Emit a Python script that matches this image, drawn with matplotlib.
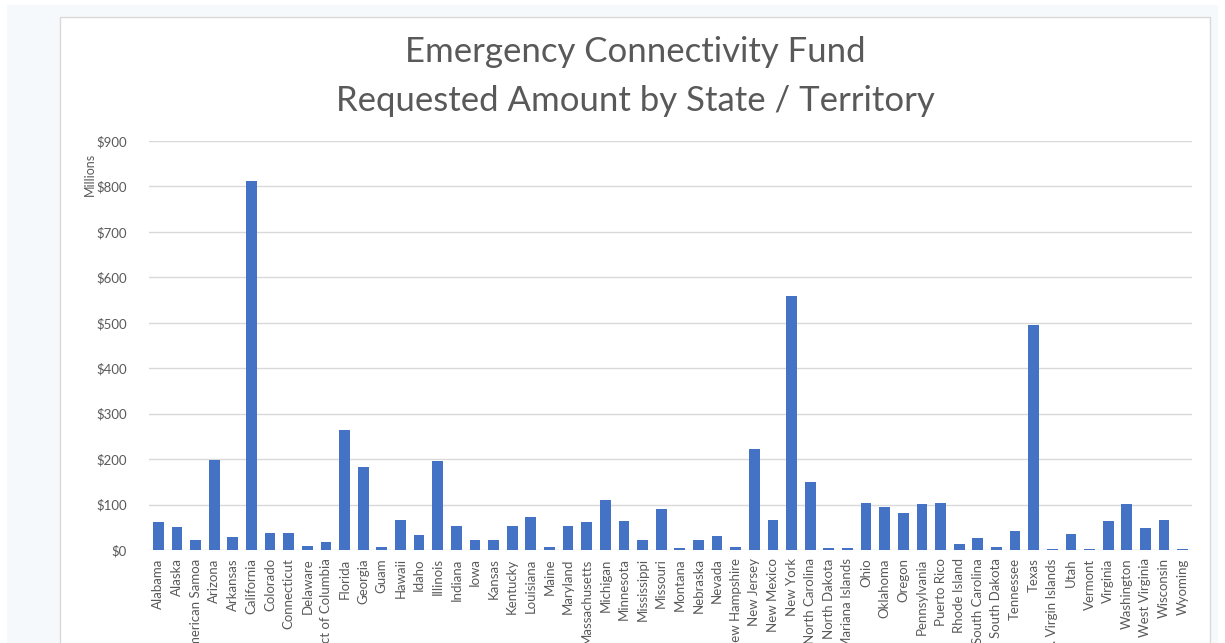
import matplotlib.pyplot as plt
import matplotlib.patches as mpatches
from matplotlib.ticker import FuncFormatter, MultipleLocator

# requested amount, millions of dollars
states = ["Alabama", "Alaska", "American Samoa", "Arizona", "Arkansas", "California",
          "Colorado", "Connecticut", "Delaware", "District of Columbia", "Florida",
          "Georgia", "Guam", "Hawaii", "Idaho", "Illinois", "Indiana", "Iowa", "Kansas",
          "Kentucky", "Louisiana", "Maine", "Maryland", "Massachusetts", "Michigan",
          "Minnesota", "Mississippi", "Missouri", "Montana", "Nebraska", "Nevada",
          "New Hampshire", "New Jersey", "New Mexico", "New York", "North Carolina",
          "North Dakota", "Northern Mariana Islands", "Ohio", "Oklahoma", "Oregon",
          "Pennsylvania", "Puerto Rico", "Rhode Island", "South Carolina", "South Dakota",
          "Tennessee", "Texas", "U.S. Virgin Islands", "Utah", "Vermont", "Virginia",
          "Washington", "West Virginia", "Wisconsin", "Wyoming"]
amounts = [62, 50, 23, 199, 29, 812,
           37, 37, 8, 18, 264,
           183, 6, 65, 34, 196, 53, 21, 23,
           53, 72, 6, 53, 61, 109,
           64, 22, 90, 4, 22, 30,
           6, 223, 67, 559, 150,
           4, 4, 104, 95, 82,
           101, 104, 13, 27, 6,
           42, 495, 3, 35, 3, 64,
           101, 48, 67, 3]

txt = "#595959"
fig = plt.figure(figsize=(12.25, 6.43), dpi=100)
fig.patch.set_facecolor("white")
# page background and chart panel
fig.patches.append(mpatches.Rectangle((7/1225, 0), 1211/1225, 1 - 5/643,
                                      transform=fig.transFigure, facecolor="#f6f9fc",
                                      edgecolor="none", zorder=-3))
fig.patches.append(mpatches.Rectangle((60/1225, -0.05), 1150/1225, 1.05 - 17/643,
                                      transform=fig.transFigure, facecolor="white",
                                      edgecolor="#d9d9d9", lw=1, zorder=-2))

ax = fig.add_axes([149/1225, 1 - 550/643, (1192 - 149)/1225, (550 - 141)/643])
ax.bar(range(len(states)), amounts, width=0.575, color="#4472C4", zorder=3)
ax.set_xlim(-0.5, len(states) - 0.5)
ax.set_ylim(0, 900)
ax.yaxis.set_major_locator(MultipleLocator(100))
ax.yaxis.set_major_formatter(FuncFormatter(lambda v, p: "${:,.0f}".format(v)))
ax.grid(axis="y", color="#d9d9d9", lw=1, zorder=0)
for s in ax.spines.values():
    s.set_visible(False)
ax.set_facecolor("none")
ax.set_xticks(range(len(states)))
ax.set_xticklabels(states, rotation=90, fontsize=9.5, color=txt, family="Lato")
ax.tick_params(axis="x", length=0, pad=6)
ax.tick_params(axis="y", length=0, pad=16, labelsize=9.5, labelcolor=txt)
for lb in ax.get_yticklabels():
    lb.set_family("Lato")

fig.text(90/1225, 1 - 174/643, "Millions", rotation=90, ha="center", va="center",
         fontsize=9, color=txt, family="Lato")
fig.text(635/1225, 1 - 52/643, "Emergency Connectivity Fund", ha="center", va="center",
         fontsize=25, color=txt, family="Lato")
fig.text(635/1225, 1 - 101/643, "Requested Amount by State / Territory", ha="center",
         va="center", fontsize=25, color=txt, family="Lato")

plt.savefig("out.png", dpi=100)
